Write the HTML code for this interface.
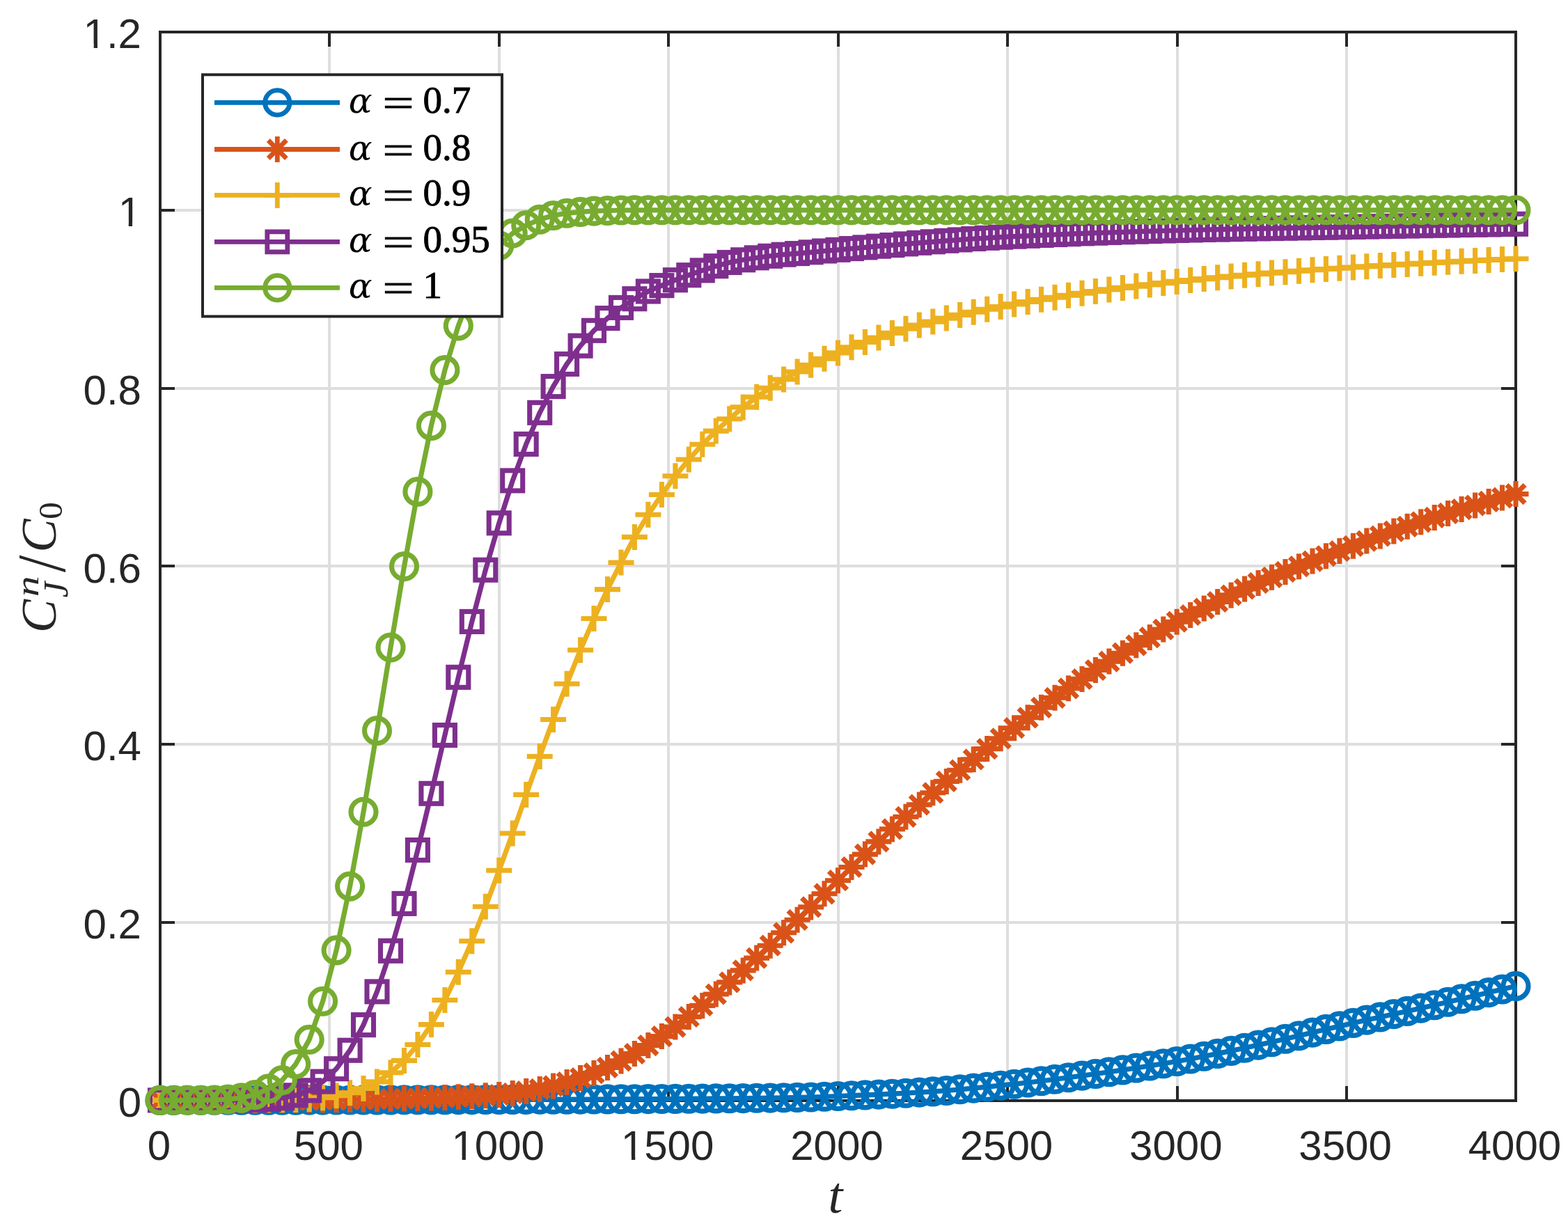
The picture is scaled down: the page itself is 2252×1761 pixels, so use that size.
<!DOCTYPE html>
<html lang="en"><head><meta charset="utf-8"><title>Breakthrough curves</title>
<style>html,body{margin:0;padding:0;background:#fff}svg{display:block}.tk{font-family:"Liberation Sans",sans-serif;font-size:60px;fill:#262626}.mi{font-family:"Liberation Serif",serif;font-style:italic;fill:#000;stroke:#000;stroke-width:0.7px}.mr{font-family:"Liberation Serif",serif;fill:#000;stroke:#000;stroke-width:0.9px}.ma{font-family:"DejaVu Serif",serif;font-style:italic;fill:#000}.ls{font-family:"DejaVu Sans Light","DejaVu Sans",sans-serif;fill:#262626}.li{font-family:"Liberation Serif",serif;font-style:italic;fill:#262626}.lr{font-family:"Liberation Serif",serif;fill:#262626}</style></head><body>
<svg width="2252" height="1761" viewBox="0 0 2252 1761">
<rect width="2252" height="1761" fill="#fff"/>
<path d="M473 46V1581M717 46V1581M960 46V1581M1204 46V1581M1447 46V1581M1691 46V1581M1934 46V1581M230 1325H2177M230 1069H2177M230 813H2177M230 558H2177M230 302H2177" stroke="#dedede" stroke-width="4" fill="none"/>
<path d="M473 1581v-21M473 46v21M717 1581v-21M717 46v21M960 1581v-21M960 46v21M1204 1581v-21M1204 46v21M1447 1581v-21M1447 46v21M1691 1581v-21M1691 46v21M1934 1581v-21M1934 46v21M230 1325h21M2177 1325h-21M230 1069h21M2177 1069h-21M230 813h21M2177 813h-21M230 558h21M2177 558h-21M230 302h21M2177 302h-21" stroke="#262626" stroke-width="4" fill="none"/>
<rect x="230" y="46" width="1947" height="1535" fill="none" stroke="#262626" stroke-width="4"/>
<polyline points="230,1580.4 249.5,1580.4 268.9,1580.3 288.4,1580.3 307.9,1580.3 327.4,1580.3 346.8,1580.3 366.3,1580.2 385.8,1580.2 405.2,1580.2 424.7,1580.2 444.2,1580.1 463.6,1580.1 483.1,1580 502.6,1580 522,1580 541.5,1579.9 561,1579.9 580.5,1579.8 599.9,1579.8 619.4,1579.7 638.9,1579.7 658.3,1579.6 677.8,1579.6 697.3,1579.5 716.8,1579.5 736.2,1579.4 755.7,1579.4 775.2,1579.3 794.6,1579.2 814.1,1579.2 833.6,1579.1 853,1579 872.5,1578.9 892,1578.8 911.4,1578.7 930.9,1578.6 950.4,1578.5 969.9,1578.4 989.3,1578.2 1008.8,1578.1 1028.3,1577.9 1047.7,1577.8 1067.2,1577.6 1086.7,1577.3 1106.2,1577.1 1125.6,1576.8 1145.1,1576.4 1164.6,1576 1184,1575.3 1203.5,1574.5 1223,1573.7 1242.4,1572.9 1261.9,1572.1 1281.4,1571.2 1300.9,1570.2 1320.3,1569.1 1339.8,1567.9 1359.3,1566.5 1378.7,1564.8 1398.2,1563.1 1417.7,1561.2 1437.1,1559.2 1456.6,1557.2 1476.1,1555 1495.5,1552.7 1515,1550.3 1534.5,1547.7 1554,1545.1 1573.4,1542.5 1592.9,1539.7 1612.4,1536.9 1631.8,1534 1651.3,1530.9 1670.8,1527.8 1690.2,1524.5 1709.7,1521 1729.2,1517.3 1748.7,1513.4 1768.1,1509.4 1787.6,1505.3 1807.1,1501.1 1826.5,1496.8 1846,1492.3 1865.5,1487.7 1885,1483.1 1904.4,1478.4 1923.9,1473.9 1943.4,1469.4 1962.8,1465.1 1982.3,1460.9 2001.8,1456.6 2021.2,1452.4 2040.7,1448.1 2060.2,1443.7 2079.6,1439.2 2099.1,1434.7 2118.6,1430.2 2138.1,1425.6 2157.5,1421 2177,1416.4" fill="none" stroke="#0072BD" stroke-width="7.2" stroke-linejoin="round"/>
<g fill="none" stroke="#0072BD" stroke-width="7.1"><circle cx="230" cy="1580.4" r="18.0"/><circle cx="249.5" cy="1580.4" r="18.0"/><circle cx="268.9" cy="1580.3" r="18.0"/><circle cx="288.4" cy="1580.3" r="18.0"/><circle cx="307.9" cy="1580.3" r="18.0"/><circle cx="327.4" cy="1580.3" r="18.0"/><circle cx="346.8" cy="1580.3" r="18.0"/><circle cx="366.3" cy="1580.2" r="18.0"/><circle cx="385.8" cy="1580.2" r="18.0"/><circle cx="405.2" cy="1580.2" r="18.0"/><circle cx="424.7" cy="1580.2" r="18.0"/><circle cx="444.2" cy="1580.1" r="18.0"/><circle cx="463.6" cy="1580.1" r="18.0"/><circle cx="483.1" cy="1580" r="18.0"/><circle cx="502.6" cy="1580" r="18.0"/><circle cx="522" cy="1580" r="18.0"/><circle cx="541.5" cy="1579.9" r="18.0"/><circle cx="561" cy="1579.9" r="18.0"/><circle cx="580.5" cy="1579.8" r="18.0"/><circle cx="599.9" cy="1579.8" r="18.0"/><circle cx="619.4" cy="1579.7" r="18.0"/><circle cx="638.9" cy="1579.7" r="18.0"/><circle cx="658.3" cy="1579.6" r="18.0"/><circle cx="677.8" cy="1579.6" r="18.0"/><circle cx="697.3" cy="1579.5" r="18.0"/><circle cx="716.8" cy="1579.5" r="18.0"/><circle cx="736.2" cy="1579.4" r="18.0"/><circle cx="755.7" cy="1579.4" r="18.0"/><circle cx="775.2" cy="1579.3" r="18.0"/><circle cx="794.6" cy="1579.2" r="18.0"/><circle cx="814.1" cy="1579.2" r="18.0"/><circle cx="833.6" cy="1579.1" r="18.0"/><circle cx="853" cy="1579" r="18.0"/><circle cx="872.5" cy="1578.9" r="18.0"/><circle cx="892" cy="1578.8" r="18.0"/><circle cx="911.4" cy="1578.7" r="18.0"/><circle cx="930.9" cy="1578.6" r="18.0"/><circle cx="950.4" cy="1578.5" r="18.0"/><circle cx="969.9" cy="1578.4" r="18.0"/><circle cx="989.3" cy="1578.2" r="18.0"/><circle cx="1008.8" cy="1578.1" r="18.0"/><circle cx="1028.3" cy="1577.9" r="18.0"/><circle cx="1047.7" cy="1577.8" r="18.0"/><circle cx="1067.2" cy="1577.6" r="18.0"/><circle cx="1086.7" cy="1577.3" r="18.0"/><circle cx="1106.2" cy="1577.1" r="18.0"/><circle cx="1125.6" cy="1576.8" r="18.0"/><circle cx="1145.1" cy="1576.4" r="18.0"/><circle cx="1164.6" cy="1576" r="18.0"/><circle cx="1184" cy="1575.3" r="18.0"/><circle cx="1203.5" cy="1574.5" r="18.0"/><circle cx="1223" cy="1573.7" r="18.0"/><circle cx="1242.4" cy="1572.9" r="18.0"/><circle cx="1261.9" cy="1572.1" r="18.0"/><circle cx="1281.4" cy="1571.2" r="18.0"/><circle cx="1300.9" cy="1570.2" r="18.0"/><circle cx="1320.3" cy="1569.1" r="18.0"/><circle cx="1339.8" cy="1567.9" r="18.0"/><circle cx="1359.3" cy="1566.5" r="18.0"/><circle cx="1378.7" cy="1564.8" r="18.0"/><circle cx="1398.2" cy="1563.1" r="18.0"/><circle cx="1417.7" cy="1561.2" r="18.0"/><circle cx="1437.1" cy="1559.2" r="18.0"/><circle cx="1456.6" cy="1557.2" r="18.0"/><circle cx="1476.1" cy="1555" r="18.0"/><circle cx="1495.5" cy="1552.7" r="18.0"/><circle cx="1515" cy="1550.3" r="18.0"/><circle cx="1534.5" cy="1547.7" r="18.0"/><circle cx="1554" cy="1545.1" r="18.0"/><circle cx="1573.4" cy="1542.5" r="18.0"/><circle cx="1592.9" cy="1539.7" r="18.0"/><circle cx="1612.4" cy="1536.9" r="18.0"/><circle cx="1631.8" cy="1534" r="18.0"/><circle cx="1651.3" cy="1530.9" r="18.0"/><circle cx="1670.8" cy="1527.8" r="18.0"/><circle cx="1690.2" cy="1524.5" r="18.0"/><circle cx="1709.7" cy="1521" r="18.0"/><circle cx="1729.2" cy="1517.3" r="18.0"/><circle cx="1748.7" cy="1513.4" r="18.0"/><circle cx="1768.1" cy="1509.4" r="18.0"/><circle cx="1787.6" cy="1505.3" r="18.0"/><circle cx="1807.1" cy="1501.1" r="18.0"/><circle cx="1826.5" cy="1496.8" r="18.0"/><circle cx="1846" cy="1492.3" r="18.0"/><circle cx="1865.5" cy="1487.7" r="18.0"/><circle cx="1885" cy="1483.1" r="18.0"/><circle cx="1904.4" cy="1478.4" r="18.0"/><circle cx="1923.9" cy="1473.9" r="18.0"/><circle cx="1943.4" cy="1469.4" r="18.0"/><circle cx="1962.8" cy="1465.1" r="18.0"/><circle cx="1982.3" cy="1460.9" r="18.0"/><circle cx="2001.8" cy="1456.6" r="18.0"/><circle cx="2021.2" cy="1452.4" r="18.0"/><circle cx="2040.7" cy="1448.1" r="18.0"/><circle cx="2060.2" cy="1443.7" r="18.0"/><circle cx="2079.6" cy="1439.2" r="18.0"/><circle cx="2099.1" cy="1434.7" r="18.0"/><circle cx="2118.6" cy="1430.2" r="18.0"/><circle cx="2138.1" cy="1425.6" r="18.0"/><circle cx="2157.5" cy="1421" r="18.0"/><circle cx="2177" cy="1416.4" r="18.0"/></g>
<polyline points="230,1580.4 249.5,1580.4 268.9,1580.3 288.4,1580.3 307.9,1580.3 327.4,1580.3 346.8,1580.2 366.3,1580.2 385.8,1580.1 405.2,1580 424.7,1580 444.2,1579.9 463.6,1579.7 483.1,1579.5 502.6,1579.3 522,1579.1 541.5,1578.8 561,1578.5 580.5,1578.1 599.9,1577.7 619.4,1577.2 638.9,1576.5 658.3,1575.7 677.8,1574.8 697.3,1573.8 716.8,1572.6 736.2,1570.4 755.7,1567.6 775.2,1564.4 794.6,1559.9 814.1,1554.6 833.6,1548.5 853,1541.6 872.5,1533.4 892,1523.9 911.4,1513.5 930.9,1501.6 950.4,1488.6 969.9,1475.1 989.3,1460.5 1008.8,1444.4 1028.3,1428 1047.7,1410.9 1067.2,1393.9 1086.7,1376.1 1106.2,1358.2 1125.6,1339.7 1145.1,1321.3 1164.6,1302.9 1184,1283.8 1203.5,1264.7 1223,1245.5 1242.4,1227.1 1261.9,1208.9 1281.4,1190.9 1300.9,1173.3 1320.3,1155.9 1339.8,1138.8 1359.3,1122.4 1378.7,1106.2 1398.2,1090.8 1417.7,1075.6 1437.1,1060.8 1456.6,1045.7 1476.1,1030.8 1495.5,1016.2 1515,1002.3 1534.5,988.7 1554,975.4 1573.4,962.5 1592.9,950.1 1612.4,938.2 1631.8,926.8 1651.3,915.6 1670.8,904.1 1690.2,893.2 1709.7,883.5 1729.2,874.1 1748.7,864.4 1768.1,854.9 1787.6,846 1807.1,837.4 1826.5,829.3 1846,821.4 1865.5,813.7 1885,806.1 1904.4,798.7 1923.9,791.5 1943.4,784.3 1962.8,777.1 1982.3,770 2001.8,763.1 2021.2,756.3 2040.7,749.7 2060.2,743.4 2079.6,737.4 2099.1,731.6 2118.6,725.9 2138.1,720.4 2157.5,714.9 2177,709.6" fill="none" stroke="#D95319" stroke-width="7.2" stroke-linejoin="round"/>
<path d="M211.5 1580.4h37M230 1561.9v37M216.9 1567.3l26.2 26.2M216.9 1593.4l26.2 -26.2M231 1580.4h37M249.5 1561.9v37M236.4 1567.3l26.2 26.2M236.4 1593.4l26.2 -26.2M250.4 1580.3h37M268.9 1561.8v37M255.9 1567.3l26.2 26.2M255.9 1593.4l26.2 -26.2M269.9 1580.3h37M288.4 1561.8v37M275.3 1567.2l26.2 26.2M275.3 1593.4l26.2 -26.2M289.4 1580.3h37M307.9 1561.8v37M294.8 1567.2l26.2 26.2M294.8 1593.4l26.2 -26.2M308.9 1580.3h37M327.4 1561.8v37M314.3 1567.2l26.2 26.2M314.3 1593.3l26.2 -26.2M328.3 1580.2h37M346.8 1561.7v37M333.7 1567.1l26.2 26.2M333.7 1593.3l26.2 -26.2M347.8 1580.2h37M366.3 1561.7v37M353.2 1567.1l26.2 26.2M353.2 1593.2l26.2 -26.2M367.3 1580.1h37M385.8 1561.6v37M372.7 1567l26.2 26.2M372.7 1593.2l26.2 -26.2M386.7 1580h37M405.2 1561.5v37M392.1 1567l26.2 26.2M392.1 1593.1l26.2 -26.2M406.2 1580h37M424.7 1561.5v37M411.6 1566.9l26.2 26.2M411.6 1593.1l26.2 -26.2M425.7 1579.9h37M444.2 1561.4v37M431.1 1566.8l26.2 26.2M431.1 1593l26.2 -26.2M445.1 1579.7h37M463.6 1561.2v37M450.6 1566.6l26.2 26.2M450.6 1592.8l26.2 -26.2M464.6 1579.5h37M483.1 1561v37M470 1566.5l26.2 26.2M470 1592.6l26.2 -26.2M484.1 1579.3h37M502.6 1560.8v37M489.5 1566.2l26.2 26.2M489.5 1592.4l26.2 -26.2M503.5 1579.1h37M522 1560.6v37M509 1566l26.2 26.2M509 1592.2l26.2 -26.2M523 1578.8h37M541.5 1560.3v37M528.4 1565.7l26.2 26.2M528.4 1591.9l26.2 -26.2M542.5 1578.5h37M561 1560v37M547.9 1565.4l26.2 26.2M547.9 1591.6l26.2 -26.2M562 1578.1h37M580.5 1559.6v37M567.4 1565l26.2 26.2M567.4 1591.2l26.2 -26.2M581.4 1577.7h37M599.9 1559.2v37M586.8 1564.6l26.2 26.2M586.8 1590.7l26.2 -26.2M600.9 1577.2h37M619.4 1558.7v37M606.3 1564.1l26.2 26.2M606.3 1590.2l26.2 -26.2M620.4 1576.5h37M638.9 1558v37M625.8 1563.4l26.2 26.2M625.8 1589.6l26.2 -26.2M639.8 1575.7h37M658.3 1557.2v37M645.3 1562.6l26.2 26.2M645.3 1588.8l26.2 -26.2M659.3 1574.8h37M677.8 1556.3v37M664.7 1561.7l26.2 26.2M664.7 1587.9l26.2 -26.2M678.8 1573.8h37M697.3 1555.3v37M684.2 1560.8l26.2 26.2M684.2 1586.9l26.2 -26.2M698.2 1572.6h37M716.8 1554.1v37M703.7 1559.5l26.2 26.2M703.7 1585.6l26.2 -26.2M717.7 1570.4h37M736.2 1551.9v37M723.1 1557.3l26.2 26.2M723.1 1583.5l26.2 -26.2M737.2 1567.6h37M755.7 1549.1v37M742.6 1554.5l26.2 26.2M742.6 1580.7l26.2 -26.2M756.7 1564.4h37M775.2 1545.9v37M762.1 1551.3l26.2 26.2M762.1 1577.5l26.2 -26.2M776.1 1559.9h37M794.6 1541.4v37M781.5 1546.8l26.2 26.2M781.5 1573l26.2 -26.2M795.6 1554.6h37M814.1 1536.1v37M801 1541.6l26.2 26.2M801 1567.7l26.2 -26.2M815.1 1548.5h37M833.6 1530v37M820.5 1535.4l26.2 26.2M820.5 1561.6l26.2 -26.2M834.5 1541.6h37M853 1523.1v37M840 1528.5l26.2 26.2M840 1554.7l26.2 -26.2M854 1533.4h37M872.5 1514.9v37M859.4 1520.3l26.2 26.2M859.4 1546.5l26.2 -26.2M873.5 1523.9h37M892 1505.4v37M878.9 1510.9l26.2 26.2M878.9 1537l26.2 -26.2M892.9 1513.5h37M911.4 1495v37M898.4 1500.4l26.2 26.2M898.4 1526.5l26.2 -26.2M912.4 1501.6h37M930.9 1483.1v37M917.8 1488.5l26.2 26.2M917.8 1514.6l26.2 -26.2M931.9 1488.6h37M950.4 1470.1v37M937.3 1475.6l26.2 26.2M937.3 1501.7l26.2 -26.2M951.4 1475.1h37M969.9 1456.6v37M956.8 1462l26.2 26.2M956.8 1488.2l26.2 -26.2M970.8 1460.5h37M989.3 1442v37M976.2 1447.4l26.2 26.2M976.2 1473.6l26.2 -26.2M990.3 1444.4h37M1008.8 1425.9v37M995.7 1431.3l26.2 26.2M995.7 1457.5l26.2 -26.2M1009.8 1428h37M1028.3 1409.5v37M1015.2 1414.9l26.2 26.2M1015.2 1441.1l26.2 -26.2M1029.2 1410.9h37M1047.7 1392.4v37M1034.7 1397.8l26.2 26.2M1034.7 1424l26.2 -26.2M1048.7 1393.9h37M1067.2 1375.4v37M1054.1 1380.8l26.2 26.2M1054.1 1406.9l26.2 -26.2M1068.2 1376.1h37M1086.7 1357.6v37M1073.6 1363l26.2 26.2M1073.6 1389.2l26.2 -26.2M1087.7 1358.2h37M1106.2 1339.7v37M1093.1 1345.1l26.2 26.2M1093.1 1371.3l26.2 -26.2M1107.1 1339.7h37M1125.6 1321.2v37M1112.5 1326.7l26.2 26.2M1112.5 1352.8l26.2 -26.2M1126.6 1321.3h37M1145.1 1302.8v37M1132 1308.2l26.2 26.2M1132 1334.4l26.2 -26.2M1146.1 1302.9h37M1164.6 1284.4v37M1151.5 1289.8l26.2 26.2M1151.5 1316l26.2 -26.2M1165.5 1283.8h37M1184 1265.3v37M1170.9 1270.8l26.2 26.2M1170.9 1296.9l26.2 -26.2M1185 1264.7h37M1203.5 1246.2v37M1190.4 1251.6l26.2 26.2M1190.4 1277.7l26.2 -26.2M1204.5 1245.5h37M1223 1227v37M1209.9 1232.4l26.2 26.2M1209.9 1258.6l26.2 -26.2M1223.9 1227.1h37M1242.4 1208.6v37M1229.4 1214l26.2 26.2M1229.4 1240.1l26.2 -26.2M1243.4 1208.9h37M1261.9 1190.4v37M1248.8 1195.8l26.2 26.2M1248.8 1222l26.2 -26.2M1262.9 1190.9h37M1281.4 1172.4v37M1268.3 1177.8l26.2 26.2M1268.3 1203.9l26.2 -26.2M1282.4 1173.3h37M1300.9 1154.8v37M1287.8 1160.2l26.2 26.2M1287.8 1186.4l26.2 -26.2M1301.8 1155.9h37M1320.3 1137.4v37M1307.2 1142.9l26.2 26.2M1307.2 1169l26.2 -26.2M1321.3 1138.8h37M1339.8 1120.3v37M1326.7 1125.7l26.2 26.2M1326.7 1151.9l26.2 -26.2M1340.8 1122.4h37M1359.3 1103.9v37M1346.2 1109.3l26.2 26.2M1346.2 1135.5l26.2 -26.2M1360.2 1106.2h37M1378.7 1087.7v37M1365.6 1093.1l26.2 26.2M1365.6 1119.3l26.2 -26.2M1379.7 1090.8h37M1398.2 1072.3v37M1385.1 1077.7l26.2 26.2M1385.1 1103.9l26.2 -26.2M1399.2 1075.6h37M1417.7 1057.1v37M1404.6 1062.5l26.2 26.2M1404.6 1088.7l26.2 -26.2M1418.6 1060.8h37M1437.1 1042.3v37M1424.1 1047.7l26.2 26.2M1424.1 1073.8l26.2 -26.2M1438.1 1045.7h37M1456.6 1027.2v37M1443.5 1032.6l26.2 26.2M1443.5 1058.8l26.2 -26.2M1457.6 1030.8h37M1476.1 1012.3v37M1463 1017.7l26.2 26.2M1463 1043.9l26.2 -26.2M1477 1016.2h37M1495.5 997.7v37M1482.5 1003.2l26.2 26.2M1482.5 1029.3l26.2 -26.2M1496.5 1002.3h37M1515 983.8v37M1501.9 989.2l26.2 26.2M1501.9 1015.4l26.2 -26.2M1516 988.7h37M1534.5 970.2v37M1521.4 975.7l26.2 26.2M1521.4 1001.8l26.2 -26.2M1535.5 975.4h37M1554 956.9v37M1540.9 962.4l26.2 26.2M1540.9 988.5l26.2 -26.2M1554.9 962.5h37M1573.4 944v37M1560.3 949.4l26.2 26.2M1560.3 975.6l26.2 -26.2M1574.4 950.1h37M1592.9 931.6v37M1579.8 937.1l26.2 26.2M1579.8 963.2l26.2 -26.2M1593.9 938.2h37M1612.4 919.7v37M1599.3 925.1l26.2 26.2M1599.3 951.3l26.2 -26.2M1613.3 926.8h37M1631.8 908.3v37M1618.8 913.7l26.2 26.2M1618.8 939.9l26.2 -26.2M1632.8 915.6h37M1651.3 897.1v37M1638.2 902.5l26.2 26.2M1638.2 928.7l26.2 -26.2M1652.3 904.1h37M1670.8 885.6v37M1657.7 891.1l26.2 26.2M1657.7 917.2l26.2 -26.2M1671.8 893.2h37M1690.2 874.7v37M1677.2 880.1l26.2 26.2M1677.2 906.3l26.2 -26.2M1691.2 883.5h37M1709.7 865v37M1696.6 870.4l26.2 26.2M1696.6 896.6l26.2 -26.2M1710.7 874.1h37M1729.2 855.6v37M1716.1 861.1l26.2 26.2M1716.1 887.2l26.2 -26.2M1730.2 864.4h37M1748.7 845.9v37M1735.6 851.4l26.2 26.2M1735.6 877.5l26.2 -26.2M1749.6 854.9h37M1768.1 836.4v37M1755 841.9l26.2 26.2M1755 868l26.2 -26.2M1769.1 846h37M1787.6 827.5v37M1774.5 832.9l26.2 26.2M1774.5 859.1l26.2 -26.2M1788.6 837.4h37M1807.1 818.9v37M1794 824.3l26.2 26.2M1794 850.5l26.2 -26.2M1808 829.3h37M1826.5 810.8v37M1813.5 816.2l26.2 26.2M1813.5 842.4l26.2 -26.2M1827.5 821.4h37M1846 802.9v37M1832.9 808.3l26.2 26.2M1832.9 834.5l26.2 -26.2M1847 813.7h37M1865.5 795.2v37M1852.4 800.6l26.2 26.2M1852.4 826.7l26.2 -26.2M1866.5 806.1h37M1885 787.6v37M1871.9 793l26.2 26.2M1871.9 819.2l26.2 -26.2M1885.9 798.7h37M1904.4 780.2v37M1891.3 785.6l26.2 26.2M1891.3 811.8l26.2 -26.2M1905.4 791.5h37M1923.9 773v37M1910.8 778.4l26.2 26.2M1910.8 804.6l26.2 -26.2M1924.9 784.3h37M1943.4 765.8v37M1930.3 771.3l26.2 26.2M1930.3 797.4l26.2 -26.2M1944.3 777.1h37M1962.8 758.6v37M1949.7 764l26.2 26.2M1949.7 790.2l26.2 -26.2M1963.8 770h37M1982.3 751.5v37M1969.2 756.9l26.2 26.2M1969.2 783.1l26.2 -26.2M1983.3 763.1h37M2001.8 744.6v37M1988.7 750l26.2 26.2M1988.7 776.2l26.2 -26.2M2002.7 756.3h37M2021.2 737.8v37M2008.2 743.2l26.2 26.2M2008.2 769.4l26.2 -26.2M2022.2 749.7h37M2040.7 731.2v37M2027.6 736.7l26.2 26.2M2027.6 762.8l26.2 -26.2M2041.7 743.4h37M2060.2 724.9v37M2047.1 730.3l26.2 26.2M2047.1 756.5l26.2 -26.2M2061.1 737.4h37M2079.6 718.9v37M2066.6 724.3l26.2 26.2M2066.6 750.5l26.2 -26.2M2080.6 731.6h37M2099.1 713.1v37M2086 718.6l26.2 26.2M2086 744.7l26.2 -26.2M2100.1 725.9h37M2118.6 707.4v37M2105.5 712.9l26.2 26.2M2105.5 739l26.2 -26.2M2119.6 720.4h37M2138.1 701.9v37M2125 707.3l26.2 26.2M2125 733.5l26.2 -26.2M2139 714.9h37M2157.5 696.4v37M2144.4 701.9l26.2 26.2M2144.4 728l26.2 -26.2M2158.5 709.6h37M2177 691.1v37M2163.9 696.6l26.2 26.2M2163.9 722.7l26.2 -26.2" fill="none" stroke="#D95319" stroke-width="7.1"/>
<polyline points="230,1580.4 249.5,1580.4 268.9,1580.3 288.4,1580.3 307.9,1580.3 327.4,1580.2 346.8,1580.1 366.3,1580 385.8,1579.8 405.2,1579.7 424.7,1579.5 444.2,1578.4 463.6,1576.7 483.1,1573.8 502.6,1569.7 522,1563.5 541.5,1553.9 561,1540.7 580.5,1523.4 599.9,1500.5 619.4,1471.6 638.9,1436.5 658.3,1396.3 677.8,1351.8 697.3,1302.3 716.8,1250.3 736.2,1197 755.7,1141.5 775.2,1086.5 794.6,1033.5 814.1,982.2 833.6,933.7 853,888.5 872.5,846.6 892,808.1 911.4,771.4 930.9,739.2 950.4,710.5 969.9,683.8 989.3,660 1008.8,638.3 1028.3,619.1 1047.7,601.8 1067.2,584.9 1086.7,570.3 1106.2,557.3 1125.6,545 1145.1,534 1164.6,524.3 1184,515.2 1203.5,506.9 1223,498.8 1242.4,491.5 1261.9,485 1281.4,478.4 1300.9,472.3 1320.3,467.1 1339.8,462.1 1359.3,457.1 1378.7,452.4 1398.2,448.2 1417.7,444.3 1437.1,440.6 1456.6,436.9 1476.1,433.5 1495.5,430.3 1515,427.3 1534.5,424.2 1554,421.3 1573.4,418.5 1592.9,415.9 1612.4,413.4 1631.8,411.1 1651.3,408.9 1670.8,406.6 1690.2,404.4 1709.7,402.5 1729.2,400.6 1748.7,398.7 1768.1,397 1787.6,395.3 1807.1,393.7 1826.5,392.1 1846,390.7 1865.5,389.2 1885,387.8 1904.4,386.5 1923.9,385.2 1943.4,384 1962.8,382.8 1982.3,381.6 2001.8,380.5 2021.2,379.4 2040.7,378.3 2060.2,377.3 2079.6,376.3 2099.1,375.3 2118.6,374.4 2138.1,373.4 2157.5,372.5 2177,371.7" fill="none" stroke="#EDB120" stroke-width="7.2" stroke-linejoin="round"/>
<path d="M211.5 1580.4h37M230 1561.9v37M231 1580.4h37M249.5 1561.9v37M250.4 1580.3h37M268.9 1561.8v37M269.9 1580.3h37M288.4 1561.8v37M289.4 1580.3h37M307.9 1561.8v37M308.9 1580.2h37M327.4 1561.7v37M328.3 1580.1h37M346.8 1561.6v37M347.8 1580h37M366.3 1561.5v37M367.3 1579.8h37M385.8 1561.3v37M386.7 1579.7h37M405.2 1561.2v37M406.2 1579.5h37M424.7 1561v37M425.7 1578.4h37M444.2 1559.9v37M445.1 1576.7h37M463.6 1558.2v37M464.6 1573.8h37M483.1 1555.3v37M484.1 1569.7h37M502.6 1551.2v37M503.5 1563.5h37M522 1545v37M523 1553.9h37M541.5 1535.4v37M542.5 1540.7h37M561 1522.2v37M562 1523.4h37M580.5 1504.9v37M581.4 1500.5h37M599.9 1482v37M600.9 1471.6h37M619.4 1453.1v37M620.4 1436.5h37M638.9 1418v37M639.8 1396.3h37M658.3 1377.8v37M659.3 1351.8h37M677.8 1333.3v37M678.8 1302.3h37M697.3 1283.8v37M698.2 1250.3h37M716.8 1231.8v37M717.7 1197h37M736.2 1178.5v37M737.2 1141.5h37M755.7 1123v37M756.7 1086.5h37M775.2 1068v37M776.1 1033.5h37M794.6 1015v37M795.6 982.2h37M814.1 963.7v37M815.1 933.7h37M833.6 915.2v37M834.5 888.5h37M853 870v37M854 846.6h37M872.5 828.1v37M873.5 808.1h37M892 789.6v37M892.9 771.4h37M911.4 752.9v37M912.4 739.2h37M930.9 720.7v37M931.9 710.5h37M950.4 692v37M951.4 683.8h37M969.9 665.3v37M970.8 660h37M989.3 641.5v37M990.3 638.3h37M1008.8 619.8v37M1009.8 619.1h37M1028.3 600.6v37M1029.2 601.8h37M1047.7 583.3v37M1048.7 584.9h37M1067.2 566.4v37M1068.2 570.3h37M1086.7 551.8v37M1087.7 557.3h37M1106.2 538.8v37M1107.1 545h37M1125.6 526.5v37M1126.6 534h37M1145.1 515.5v37M1146.1 524.3h37M1164.6 505.8v37M1165.5 515.2h37M1184 496.7v37M1185 506.9h37M1203.5 488.4v37M1204.5 498.8h37M1223 480.3v37M1223.9 491.5h37M1242.4 473v37M1243.4 485h37M1261.9 466.5v37M1262.9 478.4h37M1281.4 459.9v37M1282.4 472.3h37M1300.9 453.8v37M1301.8 467.1h37M1320.3 448.6v37M1321.3 462.1h37M1339.8 443.6v37M1340.8 457.1h37M1359.3 438.6v37M1360.2 452.4h37M1378.7 433.9v37M1379.7 448.2h37M1398.2 429.7v37M1399.2 444.3h37M1417.7 425.8v37M1418.6 440.6h37M1437.1 422.1v37M1438.1 436.9h37M1456.6 418.4v37M1457.6 433.5h37M1476.1 415v37M1477 430.3h37M1495.5 411.8v37M1496.5 427.3h37M1515 408.8v37M1516 424.2h37M1534.5 405.7v37M1535.5 421.3h37M1554 402.8v37M1554.9 418.5h37M1573.4 400v37M1574.4 415.9h37M1592.9 397.4v37M1593.9 413.4h37M1612.4 394.9v37M1613.3 411.1h37M1631.8 392.6v37M1632.8 408.9h37M1651.3 390.4v37M1652.3 406.6h37M1670.8 388.1v37M1671.8 404.4h37M1690.2 385.9v37M1691.2 402.5h37M1709.7 384v37M1710.7 400.6h37M1729.2 382.1v37M1730.2 398.7h37M1748.7 380.2v37M1749.6 397h37M1768.1 378.5v37M1769.1 395.3h37M1787.6 376.8v37M1788.6 393.7h37M1807.1 375.2v37M1808 392.1h37M1826.5 373.6v37M1827.5 390.7h37M1846 372.2v37M1847 389.2h37M1865.5 370.7v37M1866.5 387.8h37M1885 369.3v37M1885.9 386.5h37M1904.4 368v37M1905.4 385.2h37M1923.9 366.7v37M1924.9 384h37M1943.4 365.5v37M1944.3 382.8h37M1962.8 364.3v37M1963.8 381.6h37M1982.3 363.1v37M1983.3 380.5h37M2001.8 362v37M2002.7 379.4h37M2021.2 360.9v37M2022.2 378.3h37M2040.7 359.8v37M2041.7 377.3h37M2060.2 358.8v37M2061.1 376.3h37M2079.6 357.8v37M2080.6 375.3h37M2099.1 356.8v37M2100.1 374.4h37M2118.6 355.9v37M2119.6 373.4h37M2138.1 354.9v37M2139 372.5h37M2157.5 354v37M2158.5 371.7h37M2177 353.2v37" fill="none" stroke="#EDB120" stroke-width="7.1"/>
<polyline points="230,1580.4 249.5,1580.4 268.9,1580.3 288.4,1580.3 307.9,1580.3 327.4,1580.2 346.8,1580.1 366.3,1580 385.8,1579.1 405.2,1577.2 424.7,1573.3 444.2,1566.3 463.6,1553.6 483.1,1535.2 502.6,1508.7 522,1472.1 541.5,1424.4 561,1365.8 580.5,1297.9 599.9,1221 619.4,1139.8 638.9,1056 658.3,972.8 677.8,892.9 697.3,818.7 716.8,751.3 736.2,690.4 755.7,637.9 775.2,592.8 794.6,555.1 814.1,522.9 833.6,496.7 853,474.8 872.5,457.1 892,441.9 911.4,429.2 930.9,418.5 950.4,410.1 969.9,402.2 989.3,395.2 1008.8,388.4 1028.3,382.2 1047.7,377 1067.2,373.3 1086.7,370.3 1106.2,367.8 1125.6,365.7 1145.1,364.1 1164.6,362.3 1184,360.5 1203.5,358.8 1223,357.1 1242.4,355.4 1261.9,353.7 1281.4,352.1 1300.9,350.4 1320.3,348.8 1339.8,347.3 1359.3,345.8 1378.7,344.4 1398.2,343 1417.7,341.8 1437.1,340.7 1456.6,339.7 1476.1,338.8 1495.5,337.9 1515,337 1534.5,336.2 1554,335.4 1573.4,334.7 1592.9,334 1612.4,333.3 1631.8,332.7 1651.3,332.1 1670.8,331.5 1690.2,331 1709.7,330.5 1729.2,330 1748.7,329.6 1768.1,329.2 1787.6,328.8 1807.1,328.4 1826.5,328.1 1846,327.7 1865.5,327.4 1885,327 1904.4,326.7 1923.9,326.3 1943.4,326 1962.8,325.6 1982.3,325.2 2001.8,324.9 2021.2,324.5 2040.7,324.2 2060.2,323.8 2079.6,323.5 2099.1,323.1 2118.6,322.8 2138.1,322.5 2157.5,322.1 2177,321.8" fill="none" stroke="#7E2F8E" stroke-width="7.2" stroke-linejoin="round"/>
<g fill="none" stroke="#7E2F8E" stroke-width="7.1"><rect x="215.5" y="1565.9" width="29.0" height="29.0"/><rect x="235" y="1565.9" width="29.0" height="29.0"/><rect x="254.4" y="1565.8" width="29.0" height="29.0"/><rect x="273.9" y="1565.8" width="29.0" height="29.0"/><rect x="293.4" y="1565.8" width="29.0" height="29.0"/><rect x="312.9" y="1565.7" width="29.0" height="29.0"/><rect x="332.3" y="1565.6" width="29.0" height="29.0"/><rect x="351.8" y="1565.5" width="29.0" height="29.0"/><rect x="371.3" y="1564.6" width="29.0" height="29.0"/><rect x="390.7" y="1562.7" width="29.0" height="29.0"/><rect x="410.2" y="1558.8" width="29.0" height="29.0"/><rect x="429.7" y="1551.8" width="29.0" height="29.0"/><rect x="449.1" y="1539.1" width="29.0" height="29.0"/><rect x="468.6" y="1520.7" width="29.0" height="29.0"/><rect x="488.1" y="1494.2" width="29.0" height="29.0"/><rect x="507.5" y="1457.6" width="29.0" height="29.0"/><rect x="527" y="1409.9" width="29.0" height="29.0"/><rect x="546.5" y="1351.3" width="29.0" height="29.0"/><rect x="566" y="1283.4" width="29.0" height="29.0"/><rect x="585.4" y="1206.5" width="29.0" height="29.0"/><rect x="604.9" y="1125.3" width="29.0" height="29.0"/><rect x="624.4" y="1041.5" width="29.0" height="29.0"/><rect x="643.8" y="958.3" width="29.0" height="29.0"/><rect x="663.3" y="878.4" width="29.0" height="29.0"/><rect x="682.8" y="804.2" width="29.0" height="29.0"/><rect x="702.2" y="736.8" width="29.0" height="29.0"/><rect x="721.7" y="675.9" width="29.0" height="29.0"/><rect x="741.2" y="623.4" width="29.0" height="29.0"/><rect x="760.7" y="578.3" width="29.0" height="29.0"/><rect x="780.1" y="540.6" width="29.0" height="29.0"/><rect x="799.6" y="508.4" width="29.0" height="29.0"/><rect x="819.1" y="482.2" width="29.0" height="29.0"/><rect x="838.5" y="460.3" width="29.0" height="29.0"/><rect x="858" y="442.6" width="29.0" height="29.0"/><rect x="877.5" y="427.4" width="29.0" height="29.0"/><rect x="896.9" y="414.7" width="29.0" height="29.0"/><rect x="916.4" y="404" width="29.0" height="29.0"/><rect x="935.9" y="395.6" width="29.0" height="29.0"/><rect x="955.4" y="387.7" width="29.0" height="29.0"/><rect x="974.8" y="380.7" width="29.0" height="29.0"/><rect x="994.3" y="373.9" width="29.0" height="29.0"/><rect x="1013.8" y="367.7" width="29.0" height="29.0"/><rect x="1033.2" y="362.5" width="29.0" height="29.0"/><rect x="1052.7" y="358.8" width="29.0" height="29.0"/><rect x="1072.2" y="355.8" width="29.0" height="29.0"/><rect x="1091.7" y="353.3" width="29.0" height="29.0"/><rect x="1111.1" y="351.2" width="29.0" height="29.0"/><rect x="1130.6" y="349.6" width="29.0" height="29.0"/><rect x="1150.1" y="347.8" width="29.0" height="29.0"/><rect x="1169.5" y="346" width="29.0" height="29.0"/><rect x="1189" y="344.3" width="29.0" height="29.0"/><rect x="1208.5" y="342.6" width="29.0" height="29.0"/><rect x="1227.9" y="340.9" width="29.0" height="29.0"/><rect x="1247.4" y="339.2" width="29.0" height="29.0"/><rect x="1266.9" y="337.6" width="29.0" height="29.0"/><rect x="1286.4" y="335.9" width="29.0" height="29.0"/><rect x="1305.8" y="334.3" width="29.0" height="29.0"/><rect x="1325.3" y="332.8" width="29.0" height="29.0"/><rect x="1344.8" y="331.3" width="29.0" height="29.0"/><rect x="1364.2" y="329.9" width="29.0" height="29.0"/><rect x="1383.7" y="328.5" width="29.0" height="29.0"/><rect x="1403.2" y="327.3" width="29.0" height="29.0"/><rect x="1422.6" y="326.2" width="29.0" height="29.0"/><rect x="1442.1" y="325.2" width="29.0" height="29.0"/><rect x="1461.6" y="324.3" width="29.0" height="29.0"/><rect x="1481" y="323.4" width="29.0" height="29.0"/><rect x="1500.5" y="322.5" width="29.0" height="29.0"/><rect x="1520" y="321.7" width="29.0" height="29.0"/><rect x="1539.5" y="320.9" width="29.0" height="29.0"/><rect x="1558.9" y="320.2" width="29.0" height="29.0"/><rect x="1578.4" y="319.5" width="29.0" height="29.0"/><rect x="1597.9" y="318.8" width="29.0" height="29.0"/><rect x="1617.3" y="318.2" width="29.0" height="29.0"/><rect x="1636.8" y="317.6" width="29.0" height="29.0"/><rect x="1656.3" y="317" width="29.0" height="29.0"/><rect x="1675.8" y="316.5" width="29.0" height="29.0"/><rect x="1695.2" y="316" width="29.0" height="29.0"/><rect x="1714.7" y="315.5" width="29.0" height="29.0"/><rect x="1734.2" y="315.1" width="29.0" height="29.0"/><rect x="1753.6" y="314.7" width="29.0" height="29.0"/><rect x="1773.1" y="314.3" width="29.0" height="29.0"/><rect x="1792.6" y="313.9" width="29.0" height="29.0"/><rect x="1812" y="313.6" width="29.0" height="29.0"/><rect x="1831.5" y="313.2" width="29.0" height="29.0"/><rect x="1851" y="312.9" width="29.0" height="29.0"/><rect x="1870.5" y="312.5" width="29.0" height="29.0"/><rect x="1889.9" y="312.2" width="29.0" height="29.0"/><rect x="1909.4" y="311.8" width="29.0" height="29.0"/><rect x="1928.9" y="311.5" width="29.0" height="29.0"/><rect x="1948.3" y="311.1" width="29.0" height="29.0"/><rect x="1967.8" y="310.7" width="29.0" height="29.0"/><rect x="1987.3" y="310.4" width="29.0" height="29.0"/><rect x="2006.7" y="310" width="29.0" height="29.0"/><rect x="2026.2" y="309.7" width="29.0" height="29.0"/><rect x="2045.7" y="309.3" width="29.0" height="29.0"/><rect x="2065.1" y="309" width="29.0" height="29.0"/><rect x="2084.6" y="308.6" width="29.0" height="29.0"/><rect x="2104.1" y="308.3" width="29.0" height="29.0"/><rect x="2123.6" y="308" width="29.0" height="29.0"/><rect x="2143" y="307.6" width="29.0" height="29.0"/><rect x="2162.5" y="307.3" width="29.0" height="29.0"/></g>
<polyline points="230,1580.4 249.5,1580.3 268.9,1580.3 288.4,1580.2 307.9,1580 327.4,1579.1 346.8,1576.9 366.3,1572.6 385.8,1563.7 405.2,1551.6 424.7,1528.6 444.2,1493.2 463.6,1438.2 483.1,1364.9 502.6,1273.1 522,1166.3 541.5,1049.6 561,930 580.5,813.6 599.9,706.3 619.4,611.4 638.9,531.6 658.3,467.9 677.8,417 697.3,379.9 716.8,352.7 736.2,335.1 755.7,323.6 775.2,315.3 794.6,309.5 814.1,306.3 833.6,304.4 853,303.1 872.5,302.5 892,302 911.4,301.8 930.9,301.8 950.4,301.8 969.9,301.8 989.3,301.8 1008.8,301.8 1028.3,301.8 1047.7,301.8 1067.2,301.8 1086.7,301.8 1106.2,301.8 1125.6,301.8 1145.1,301.8 1164.6,301.8 1184,301.8 1203.5,301.8 1223,301.8 1242.4,301.8 1261.9,301.8 1281.4,301.8 1300.9,301.8 1320.3,301.8 1339.8,301.8 1359.3,301.8 1378.7,301.8 1398.2,301.8 1417.7,301.8 1437.1,301.8 1456.6,301.8 1476.1,301.8 1495.5,301.8 1515,301.8 1534.5,301.8 1554,301.8 1573.4,301.8 1592.9,301.8 1612.4,301.8 1631.8,301.8 1651.3,301.8 1670.8,301.8 1690.2,301.8 1709.7,301.8 1729.2,301.8 1748.7,301.8 1768.1,301.8 1787.6,301.8 1807.1,301.8 1826.5,301.8 1846,301.8 1865.5,301.8 1885,301.8 1904.4,301.8 1923.9,301.8 1943.4,301.8 1962.8,301.8 1982.3,301.8 2001.8,301.8 2021.2,301.8 2040.7,301.8 2060.2,301.8 2079.6,301.8 2099.1,301.8 2118.6,301.8 2138.1,301.8 2157.5,301.8 2177,301.8" fill="none" stroke="#77AC30" stroke-width="7.2" stroke-linejoin="round"/>
<g fill="none" stroke="#77AC30" stroke-width="7.1"><circle cx="230" cy="1580.4" r="18.0"/><circle cx="249.5" cy="1580.3" r="18.0"/><circle cx="268.9" cy="1580.3" r="18.0"/><circle cx="288.4" cy="1580.2" r="18.0"/><circle cx="307.9" cy="1580" r="18.0"/><circle cx="327.4" cy="1579.1" r="18.0"/><circle cx="346.8" cy="1576.9" r="18.0"/><circle cx="366.3" cy="1572.6" r="18.0"/><circle cx="385.8" cy="1563.7" r="18.0"/><circle cx="405.2" cy="1551.6" r="18.0"/><circle cx="424.7" cy="1528.6" r="18.0"/><circle cx="444.2" cy="1493.2" r="18.0"/><circle cx="463.6" cy="1438.2" r="18.0"/><circle cx="483.1" cy="1364.9" r="18.0"/><circle cx="502.6" cy="1273.1" r="18.0"/><circle cx="522" cy="1166.3" r="18.0"/><circle cx="541.5" cy="1049.6" r="18.0"/><circle cx="561" cy="930" r="18.0"/><circle cx="580.5" cy="813.6" r="18.0"/><circle cx="599.9" cy="706.3" r="18.0"/><circle cx="619.4" cy="611.4" r="18.0"/><circle cx="638.9" cy="531.6" r="18.0"/><circle cx="658.3" cy="467.9" r="18.0"/><circle cx="677.8" cy="417" r="18.0"/><circle cx="697.3" cy="379.9" r="18.0"/><circle cx="716.8" cy="352.7" r="18.0"/><circle cx="736.2" cy="335.1" r="18.0"/><circle cx="755.7" cy="323.6" r="18.0"/><circle cx="775.2" cy="315.3" r="18.0"/><circle cx="794.6" cy="309.5" r="18.0"/><circle cx="814.1" cy="306.3" r="18.0"/><circle cx="833.6" cy="304.4" r="18.0"/><circle cx="853" cy="303.1" r="18.0"/><circle cx="872.5" cy="302.5" r="18.0"/><circle cx="892" cy="302" r="18.0"/><circle cx="911.4" cy="301.8" r="18.0"/><circle cx="930.9" cy="301.8" r="18.0"/><circle cx="950.4" cy="301.8" r="18.0"/><circle cx="969.9" cy="301.8" r="18.0"/><circle cx="989.3" cy="301.8" r="18.0"/><circle cx="1008.8" cy="301.8" r="18.0"/><circle cx="1028.3" cy="301.8" r="18.0"/><circle cx="1047.7" cy="301.8" r="18.0"/><circle cx="1067.2" cy="301.8" r="18.0"/><circle cx="1086.7" cy="301.8" r="18.0"/><circle cx="1106.2" cy="301.8" r="18.0"/><circle cx="1125.6" cy="301.8" r="18.0"/><circle cx="1145.1" cy="301.8" r="18.0"/><circle cx="1164.6" cy="301.8" r="18.0"/><circle cx="1184" cy="301.8" r="18.0"/><circle cx="1203.5" cy="301.8" r="18.0"/><circle cx="1223" cy="301.8" r="18.0"/><circle cx="1242.4" cy="301.8" r="18.0"/><circle cx="1261.9" cy="301.8" r="18.0"/><circle cx="1281.4" cy="301.8" r="18.0"/><circle cx="1300.9" cy="301.8" r="18.0"/><circle cx="1320.3" cy="301.8" r="18.0"/><circle cx="1339.8" cy="301.8" r="18.0"/><circle cx="1359.3" cy="301.8" r="18.0"/><circle cx="1378.7" cy="301.8" r="18.0"/><circle cx="1398.2" cy="301.8" r="18.0"/><circle cx="1417.7" cy="301.8" r="18.0"/><circle cx="1437.1" cy="301.8" r="18.0"/><circle cx="1456.6" cy="301.8" r="18.0"/><circle cx="1476.1" cy="301.8" r="18.0"/><circle cx="1495.5" cy="301.8" r="18.0"/><circle cx="1515" cy="301.8" r="18.0"/><circle cx="1534.5" cy="301.8" r="18.0"/><circle cx="1554" cy="301.8" r="18.0"/><circle cx="1573.4" cy="301.8" r="18.0"/><circle cx="1592.9" cy="301.8" r="18.0"/><circle cx="1612.4" cy="301.8" r="18.0"/><circle cx="1631.8" cy="301.8" r="18.0"/><circle cx="1651.3" cy="301.8" r="18.0"/><circle cx="1670.8" cy="301.8" r="18.0"/><circle cx="1690.2" cy="301.8" r="18.0"/><circle cx="1709.7" cy="301.8" r="18.0"/><circle cx="1729.2" cy="301.8" r="18.0"/><circle cx="1748.7" cy="301.8" r="18.0"/><circle cx="1768.1" cy="301.8" r="18.0"/><circle cx="1787.6" cy="301.8" r="18.0"/><circle cx="1807.1" cy="301.8" r="18.0"/><circle cx="1826.5" cy="301.8" r="18.0"/><circle cx="1846" cy="301.8" r="18.0"/><circle cx="1865.5" cy="301.8" r="18.0"/><circle cx="1885" cy="301.8" r="18.0"/><circle cx="1904.4" cy="301.8" r="18.0"/><circle cx="1923.9" cy="301.8" r="18.0"/><circle cx="1943.4" cy="301.8" r="18.0"/><circle cx="1962.8" cy="301.8" r="18.0"/><circle cx="1982.3" cy="301.8" r="18.0"/><circle cx="2001.8" cy="301.8" r="18.0"/><circle cx="2021.2" cy="301.8" r="18.0"/><circle cx="2040.7" cy="301.8" r="18.0"/><circle cx="2060.2" cy="301.8" r="18.0"/><circle cx="2079.6" cy="301.8" r="18.0"/><circle cx="2099.1" cy="301.8" r="18.0"/><circle cx="2118.6" cy="301.8" r="18.0"/><circle cx="2138.1" cy="301.8" r="18.0"/><circle cx="2157.5" cy="301.8" r="18.0"/><circle cx="2177" cy="301.8" r="18.0"/></g>
<rect x="291.0" y="107.3" width="430.0" height="347.2" fill="#fff" stroke="#262626" stroke-width="4"/>
<path d="M308 147.4H488" stroke="#0072BD" stroke-width="6.85" fill="none"/>
<g fill="none" stroke="#0072BD" stroke-width="6.8"><circle cx="398.3" cy="147.4" r="17.7"/></g>
<text y="162.4"><tspan class="ma" x="500.8" font-size="50">α</tspan> <tspan class="mr" x="549.4" dy="5" font-size="57" textLength="45" lengthAdjust="spacingAndGlyphs">=</tspan> <tspan class="mr" x="607.6" dy="-5" font-size="55">0.7</tspan></text>
<path d="M308 214.5H488" stroke="#D95319" stroke-width="6.85" fill="none"/>
<path d="M379.9 214.5h36.9M398.3 196.1v36.9M385.3 201.5l26.1 26.1M385.3 227.5l26.1 -26.1" fill="none" stroke="#D95319" stroke-width="6.8"/>
<text y="229.5"><tspan class="ma" x="500.8" font-size="50">α</tspan> <tspan class="mr" x="549.4" dy="5" font-size="57" textLength="45" lengthAdjust="spacingAndGlyphs">=</tspan> <tspan class="mr" x="607.6" dy="-5" font-size="55">0.8</tspan></text>
<path d="M308 280.4H488" stroke="#EDB120" stroke-width="6.85" fill="none"/>
<path d="M379.9 280.4h36.9M398.3 262v36.9" fill="none" stroke="#EDB120" stroke-width="6.8"/>
<text y="295.4"><tspan class="ma" x="500.8" font-size="50">α</tspan> <tspan class="mr" x="549.4" dy="5" font-size="57" textLength="45" lengthAdjust="spacingAndGlyphs">=</tspan> <tspan class="mr" x="607.6" dy="-5" font-size="55">0.9</tspan></text>
<path d="M308 347.4H488" stroke="#7E2F8E" stroke-width="6.85" fill="none"/>
<g fill="none" stroke="#7E2F8E" stroke-width="6.8"><rect x="383.8" y="332.9" width="29.0" height="29.0"/></g>
<text y="362.4"><tspan class="ma" x="500.8" font-size="50">α</tspan> <tspan class="mr" x="549.4" dy="5" font-size="57" textLength="45" lengthAdjust="spacingAndGlyphs">=</tspan> <tspan class="mr" x="607.6" dy="-5" font-size="55">0.95</tspan></text>
<path d="M308 413.4H488" stroke="#77AC30" stroke-width="6.85" fill="none"/>
<g fill="none" stroke="#77AC30" stroke-width="6.8"><circle cx="398.3" cy="413.4" r="17.7"/></g>
<text y="428.4"><tspan class="ma" x="500.8" font-size="50">α</tspan> <tspan class="mr" x="549.4" dy="5" font-size="57" textLength="45" lengthAdjust="spacingAndGlyphs">=</tspan> <tspan class="mr" x="607.6" dy="-5" font-size="55">1</tspan></text>
<text class="tk" x="228.5" y="1666" text-anchor="middle">0</text>
<text class="tk" x="471.9" y="1666" text-anchor="middle">500</text>
<text class="tk" x="715.2" y="1666" text-anchor="middle">1000</text>
<text class="tk" x="958.6" y="1666" text-anchor="middle">1500</text>
<text class="tk" x="1202" y="1666" text-anchor="middle">2000</text>
<text class="tk" x="1445.4" y="1666" text-anchor="middle">2500</text>
<text class="tk" x="1688.8" y="1666" text-anchor="middle">3000</text>
<text class="tk" x="1932.1" y="1666" text-anchor="middle">3500</text>
<text class="tk" x="2175.5" y="1666" text-anchor="middle">4000</text>
<text class="tk" x="203" y="1604" text-anchor="end">0</text>
<text class="tk" x="203" y="1348.2" text-anchor="end">0.2</text>
<text class="tk" x="203" y="1092.3" text-anchor="end">0.4</text>
<text class="tk" x="203" y="836.5" text-anchor="end">0.6</text>
<text class="tk" x="203" y="580.7" text-anchor="end">0.8</text>
<text class="tk" x="203" y="324.8" text-anchor="end">1</text>
<text class="tk" x="203" y="69" text-anchor="end">1.2</text>
<path d="M652.08 1660.32H663.60v7.18H652.08zM668.90 1660.32H679.95v7.18H668.90zM895.46 1660.32H906.97v7.18H895.46zM912.28 1660.32H923.33v7.18H912.28zM173.20 319.15H184.72v7.18H173.20zM190.02 319.15H201.07v7.18H190.02zM123.16 63.32H134.68v7.18H123.16zM139.98 63.32H151.03v7.18H139.98z" fill="#fff"/>
<text class="li" x="1189.6" y="1742.2" font-size="75">t</text>
<text transform="translate(79.5 905) rotate(-90)"><tspan class="li" x="-3.9" y="0" font-size="72">C</tspan><tspan class="li" x="47.8" y="-24.8" font-size="46" textLength="29.9" lengthAdjust="spacingAndGlyphs">n</tspan><tspan class="li" x="46.7" y="17.9" font-size="51">J</tspan><tspan class="ls" x="81.7" y="7.7" font-size="80">/</tspan><tspan class="li" x="111.4" y="0" font-size="72">C</tspan><tspan class="lr" x="159.2" y="9.3" font-size="49">0</tspan></text>
</svg></body></html>
